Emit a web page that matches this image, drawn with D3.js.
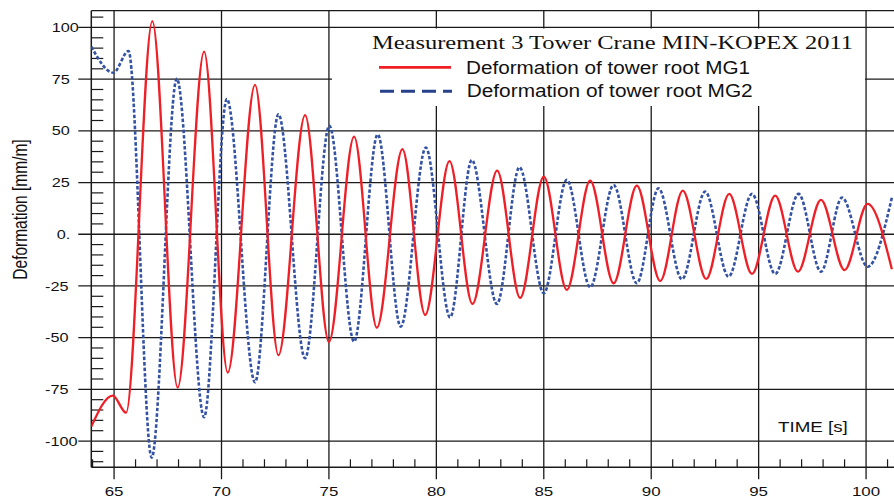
<!DOCTYPE html>
<html>
<head>
<meta charset="utf-8">
<script src="https://cdn.jsdelivr.net/npm/d3@7"></script>
<style>
  html, body { margin: 0; padding: 0; background: #fff; }
  svg { display: block; }
</style>
</head>
<body>
<svg id="chart" width="894" height="501"></svg>
<script>
// ---- data (extrema of each trace) ----
const mg1Time  = [63.94, 64.94, 65.56, 66.78, 67.96, 69.19, 70.29, 71.56, 72.65, 73.89, 75.0, 76.17, 77.23, 78.42, 79.48, 80.61, 81.68, 82.83, 83.9, 85.0, 86.07, 87.16, 88.25, 89.33, 90.42, 91.47, 92.56, 93.63, 94.69, 95.77, 96.83, 97.9, 99.0, 100.07, 101.2];
const mg1Value = [-93, -78, -86.3, 103.1, -74.2, 88.3, -66.9, 72.2, -58.5, 57.6, -52.1, 47.2, -45.2, 41.1, -39.0, 35.4, -33.7, 30.8, -30.8, 27.9, -26.9, 25.9, -23.7, 23.5, -22.6, 21.1, -21.6, 19.5, -19.2, 18.7, -18.1, 16.6, -17.3, 14.7, -16.9];

const mg2Time  = [63.94, 64.97, 65.67, 66.75, 67.92, 69.19, 70.25, 71.56, 72.65, 73.89, 75.02, 76.17, 77.27, 78.34, 79.51, 80.64, 81.65, 82.82, 83.87, 85.0, 86.07, 87.16, 88.25, 89.33, 90.34, 91.43, 92.51, 93.6, 94.69, 95.77, 96.86, 97.9, 98.88, 100.07, 101.2];
const mg2Value = [90.7, 78.1, 88.6, -108, 75.2, -88.5, 65.4, -71.6, 58.0, -60.0, 52.5, -51.9, 48.3, -44.7, 41.9, -40.2, 35.9, -33.7, 32.4, -28.5, 26.3, -25.6, 23.8, -23.7, 22.2, -21.8, 20.6, -20.5, 19.5, -19.2, 19.5, -18.1, 17.7, -15.7, 17.7];

const xMajorTicks = [65, 70, 75, 80, 85, 90, 95, 100];
const xTickLabels = ["65", "70", "75", "80", "85", "90", "95", "100"];
const yMajorTicks = [100, 75, 50, 25, 0, -25, -50, -75, -100];
const yTickLabels = ["100", "75", "50", "25", "0.", "-25", "-50", "-75", "-100"];

const titleText = "Measurement 3 Tower Crane MIN-KOPEX 2011";
const seriesNames = ["Deformation of tower root MG1", "Deformation of tower root MG2"];
const yAxisTitle = "Deformation  [mm/m]";
const xAxisTitle = "TIME [s]";

// ---- layout ----
const W = 894, H = 501;
const pL = 91.3, pR = 894, pT = 10.7, pB = 467.3;
const STRETCH = 1.25; // reference text is horizontally stretched

const x = d3.scaleLinear().domain([63.94, 101.3]).range([pL, pR]);
const y = d3.scaleLinear().domain([-112.7, 108.1]).range([pB, pT]);

const svg = d3.select("#chart");
const gridColor = "#1a1a1a";

function stretch(sel, k) {
  sel.each(function () {
    const len = this.getComputedTextLength();
    d3.select(this).attr("textLength", len * k).attr("lengthAdjust", "spacingAndGlyphs");
  });
}

// minor ticks
const yMinor = d3.range(-110, 106, 5).filter(v => v % 25 !== 0);
svg.append("g").selectAll("line").data(yMinor).join("line")
  .attr("x1", pL).attr("x2", pL + 12)
  .attr("y1", d => y(d)).attr("y2", d => y(d))
  .attr("stroke", gridColor).attr("stroke-width", 1.2);

const xMinor = d3.range(64, 102, 1).filter(v => v % 5 !== 0);
svg.append("g").selectAll("line").data(xMinor).join("line")
  .attr("x1", d => x(d)).attr("x2", d => x(d))
  .attr("y1", pB).attr("y2", pB - 8)
  .attr("stroke", gridColor).attr("stroke-width", 1.2);

// major grid
svg.append("g").selectAll("line").data(yMajorTicks).join("line")
  .attr("x1", pL - 13).attr("x2", pR)
  .attr("y1", d => y(d)).attr("y2", d => y(d))
  .attr("stroke", gridColor).attr("stroke-width", 1.3);

svg.append("g").selectAll("line").data(xMajorTicks).join("line")
  .attr("x1", d => x(d)).attr("x2", d => x(d))
  .attr("y1", pT).attr("y2", pB + 12)
  .attr("stroke", gridColor).attr("stroke-width", 1.3);

// frame
svg.append("line").attr("x1", pL).attr("x2", pR).attr("y1", pT).attr("y2", pT)
  .attr("stroke", gridColor).attr("stroke-width", 1.3);
svg.append("line").attr("x1", pL).attr("x2", pL).attr("y1", pT).attr("y2", pB)
  .attr("stroke", gridColor).attr("stroke-width", 1.5);
svg.append("line").attr("x1", pL).attr("x2", pR).attr("y1", pB).attr("y2", pB)
  .attr("stroke", gridColor).attr("stroke-width", 1.5);

// legend box (white, hides grid)
svg.append("rect").attr("x", 332).attr("y", 28.5).attr("width", 533).attr("height", 77.5)
  .attr("fill", "#fff");

// curves
svg.append("clipPath").attr("id", "plotClip").append("rect")
  .attr("x", pL).attr("y", pT).attr("width", pR - pL).attr("height", pB - pT);

const line = d3.line().x(d => x(d[0])).y(d => y(d[1])).curve(d3.curveMonotoneX);
const mg1 = mg1Time.map((t, i) => [t, mg1Value[i]]);
const mg2 = mg2Time.map((t, i) => [t, mg2Value[i]]);

const plot = svg.append("g").attr("clip-path", "url(#plotClip)");
plot.append("path").datum(mg2).attr("d", line)
  .attr("fill", "none").attr("stroke", "#3452a4").attr("stroke-width", 2.6)
  .attr("stroke-dasharray", "3.5,2");
plot.append("path").datum(mg1).attr("d", line)
  .attr("fill", "none").attr("stroke", "#ee1f26").attr("stroke-width", 2.3);

// legend contents
svg.append("text").attr("x", 372).attr("y", 49.3)
  .attr("font-family", "'Liberation Serif', 'Times New Roman', serif").attr("font-size", 19)
  .attr("fill", "#111").text(titleText)
  .attr("textLength", 481).attr("lengthAdjust", "spacingAndGlyphs");

svg.append("line").attr("x1", 379).attr("x2", 451).attr("y1", 67.3).attr("y2", 67.3)
  .attr("stroke", "#ee1f26").attr("stroke-width", 2.8);
svg.append("line").attr("x1", 380).attr("x2", 452).attr("y1", 91.3).attr("y2", 91.3)
  .attr("stroke", "#27408b").attr("stroke-width", 3).attr("stroke-dasharray", "14,7");

svg.append("text").attr("x", 466).attr("y", 74)
  .attr("font-family", "'Liberation Sans', Arial, sans-serif").attr("font-size", 17.5)
  .attr("fill", "#111").text(seriesNames[0])
  .attr("textLength", 284).attr("lengthAdjust", "spacingAndGlyphs");
svg.append("text").attr("x", 466.7).attr("y", 96.7)
  .attr("font-family", "'Liberation Sans', Arial, sans-serif").attr("font-size", 17.5)
  .attr("fill", "#111").text(seriesNames[1])
  .attr("textLength", 286).attr("lengthAdjust", "spacingAndGlyphs");

// tick labels
const yl = svg.append("g").selectAll("text").data(yMajorTicks).join("text")
  .attr("x", d => d < 0 ? 45 : (d === 0 ? 56.7 : 51.7))
  .attr("y", d => y(d) + 4.6)
  .attr("font-family", "'Liberation Sans', Arial, sans-serif").attr("font-size", 13)
  .attr("fill", "#111")
  .text((d, i) => yTickLabels[i]);
stretch(yl, STRETCH);

const xl = svg.append("g").selectAll("text").data(xMajorTicks).join("text")
  .attr("x", d => x(d)).attr("y", 496)
  .attr("text-anchor", "middle")
  .attr("font-family", "'Liberation Sans', Arial, sans-serif").attr("font-size", 13.5)
  .attr("fill", "#111")
  .text((d, i) => xTickLabels[i]);
stretch(xl, STRETCH);

// axis titles
const xt = svg.append("text").attr("x", 778).attr("y", 431.7)
  .attr("font-family", "'Liberation Sans', Arial, sans-serif").attr("font-size", 15)
  .attr("fill", "#111").text(xAxisTitle);
stretch(xt, STRETCH);

svg.append("text")
  .attr("transform", "translate(27,209.5) scale(1.35,1) rotate(-90)")
  .attr("text-anchor", "middle")
  .attr("font-family", "'Liberation Sans', Arial, sans-serif").attr("font-size", 15.5)
  .attr("fill", "#111").text(yAxisTitle);
</script>
</body>
</html>
